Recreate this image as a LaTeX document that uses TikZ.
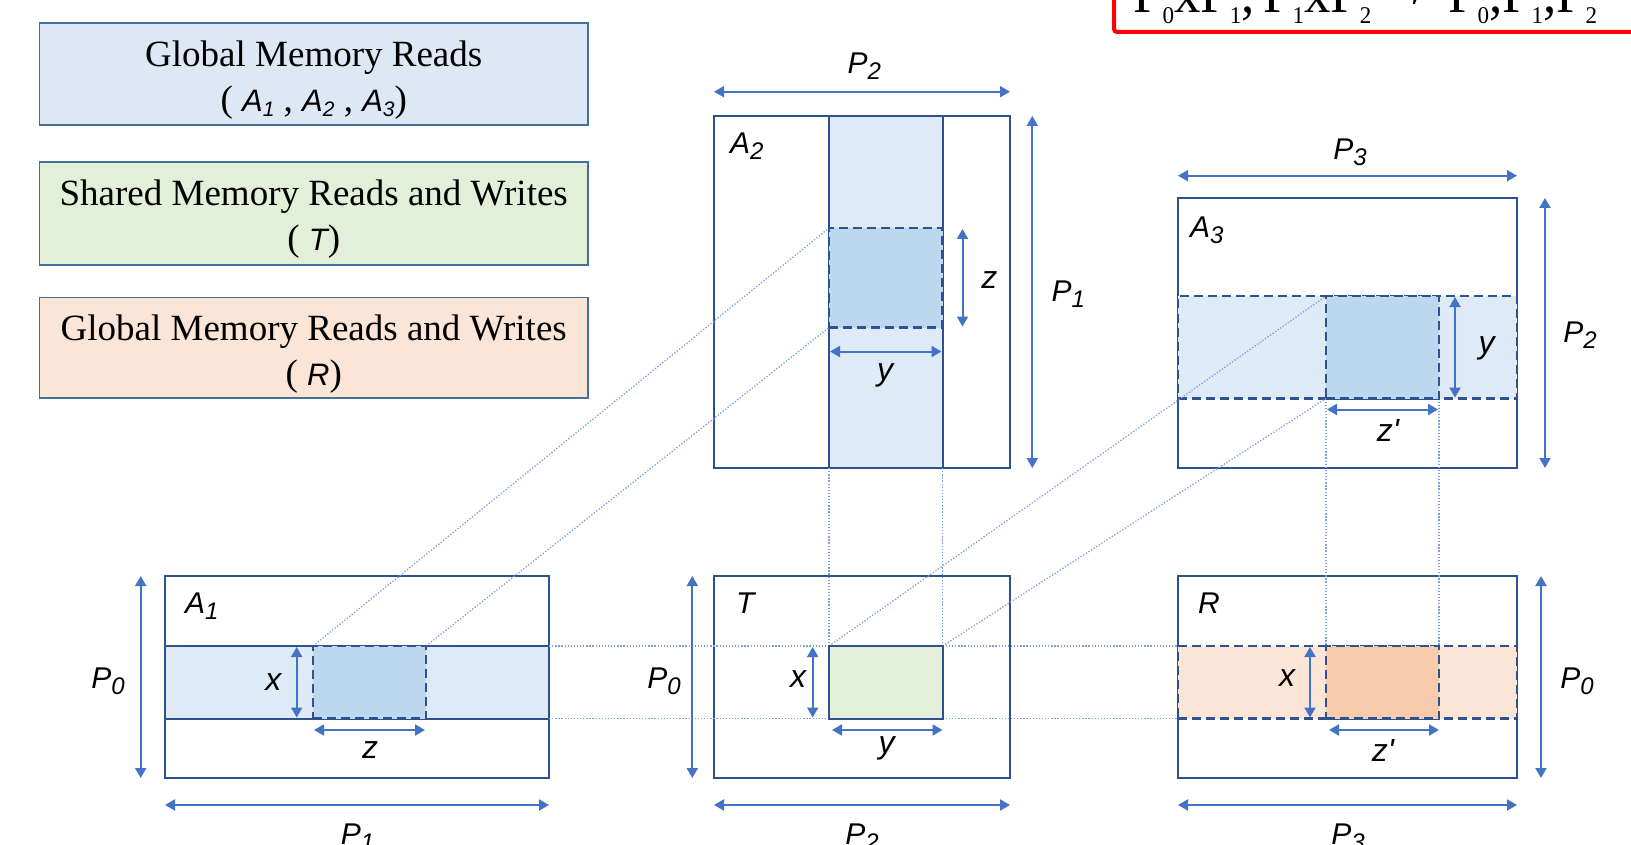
\documentclass[tikz,border=0pt]{standalone}
\usepackage{fontspec}
\setmainfont{Liberation Serif}
\newfontfamily\ar{Liberation Sans}
\usetikzlibrary{arrows.meta}
\definecolor{bdr}{HTML}{2F528F}
\definecolor{legbdr}{HTML}{41719C}
\definecolor{arw}{HTML}{4472C4}
\definecolor{lblue}{HTML}{DEEBF7}
\definecolor{dblue}{HTML}{BDD7EE}
\definecolor{lgreen}{HTML}{E2F0D9}
\definecolor{lorange}{HTML}{FBE5D6}
\definecolor{dorange}{HTML}{F8CBAD}
\definecolor{dotc}{HTML}{7F9FDA}
\definecolor{legblue}{HTML}{DEE8F5}
\newcommand\lbl[2]{{\ar\itshape\fontsize{30}{30}\selectfont #1\raisebox{-6pt}{\fontsize{24}{24}\selectfont #2}}}
\newcommand\vlab[1]{{\ar\itshape\fontsize{32}{32}\selectfont #1}}
\newcommand\bigsub[1]{\raisebox{-11pt}{\fontsize{24}{24}\selectfont #1}}
\newcommand\legsub[2]{{\ar\itshape\fontsize{31}{31}\selectfont #1\raisebox{-5pt}{\fontsize{21}{21}\selectfont #2}}}
\newcommand\ttltext[1]{\scalebox{0.96}[1]{\fontsize{55}{55}\selectfont #1}}
\begin{document}
\begin{tikzpicture}[x=1pt,y=-1pt,
  >={Triangle[length=10pt,width=11pt]},
  rectbase/.style={anchor=north west, inner sep=0pt, outer sep=0pt},
  mat/.style={rectbase, draw=bdr, line width=2pt, fill=white},
  solidband/.style={rectbase, draw=bdr, line width=2pt},
  dashband/.style={rectbase, draw=bdr, line width=2.2pt, dash pattern=on 9pt off 5pt},
  legbox/.style={rectbase, draw=legbdr, line width=1.4pt, minimum width=548.5pt},
  legtext/.style={inner sep=0pt, align=center, font=\fontsize{37}{45}\selectfont, yshift=-6pt},
  ttl/.style={inner sep=0pt, anchor=base west},
  dimarrow/.style={arw, line width=2pt, <->},
  guide/.style={dotc, line width=1.3pt, dash pattern=on 1.3pt off 1.8pt},
  lab/.style={inner sep=0pt, anchor=base}
]
\useasboundingbox (0,0) rectangle (1631,845);
\clip (0,0) rectangle (1631,845);

% title box (cut off at the top edge)
\draw[red, line width=4pt, rounded corners=3pt] (1114,-80) rectangle (1720,32);
\node[ttl] (t1) at (1133,13) {\ttltext{P\bigsub{0}xP\bigsub{1},}};
\node[ttl] (t2) at (1263,13) {\ttltext{P\bigsub{1}xP\bigsub{2}}};
\node[inner sep=0pt] (t3) at (1405,-8) {\resizebox{60pt}{40pt}{\fontsize{55}{55}\selectfont →}};
\node[ttl] (t4) at (1448,13) {\ttltext{P\bigsub{0},P\bigsub{1},P\bigsub{2}}};

% legend
\node[legbox, fill=legblue, minimum height=102pt] (leg1) at (39.5,23) {};
\node[legtext] (leg1t) at (leg1.center) {Global Memory Reads\\( \legsub{A}{1} , \legsub{A}{2} , \legsub{A}{3})};
\node[legbox, fill=lgreen, minimum height=103pt] (leg2) at (39.5,162) {};
\node[legtext] (leg2t) at (leg2.center) {Shared Memory Reads and Writes\\( \legsub{T}{})};
\node[legbox, fill=lorange, minimum height=100.5pt] (leg3) at (39.5,297.5) {};
\node[legtext] (leg3t) at (leg3.center) {Global Memory Reads and Writes\\( \legsub{R}{})};

% matrices
\node[mat, minimum width=296pt, minimum height=352pt] (A2) at (714,116) {};
\node[mat, minimum width=339pt, minimum height=270pt] (A3) at (1178,198) {};
\node[mat, minimum width=384pt, minimum height=202pt] (A1) at (165,576) {};
\node[mat, minimum width=296pt, minimum height=202pt] (T) at (714,576) {};
\node[mat, minimum width=339pt, minimum height=202pt] (R) at (1178,576) {};

% bands
\node[solidband, fill=lblue, minimum width=113.5pt, minimum height=352pt] (A2band) at (829,116) {};
\node[dashband, fill=lblue, minimum width=339pt, minimum height=102.5pt] (A3band) at (1178,296) {};
\node[solidband, fill=lblue, minimum width=384pt, minimum height=72.5pt] (A1band) at (165,646) {};
\node[dashband, fill=lorange, minimum width=339pt, minimum height=72.5pt] (Rband) at (1178,646) {};

% block corners
\coordinate (A1blkNW) at (313,646);
\coordinate (A1blkNE) at (426,646);
\coordinate (A2blkNW) at (829,228);
\coordinate (A2blkSW) at (829,327.5);
\coordinate (TblkNW) at (829,646);
\coordinate (TblkNE) at (942.5,646);
\coordinate (A3blkNW) at (1326,296);
\coordinate (A3blkSW) at (1326,398.5);
\coordinate (A3blkSE) at (1439,398.5);
\coordinate (RblkNW) at (1326,646);
\coordinate (RblkNE) at (1439,646);

% dotted guide lines
\draw[guide] (A1blkNW) -- (A2blkNW);
\draw[guide] (A1blkNE) -- (A2blkSW);
\draw[guide] (TblkNW) -- (A3blkNW);
\draw[guide] (TblkNE) -- (A3blkSW);
\draw[guide] (A2band.south west) -- (TblkNW);
\draw[guide] (A2band.south east) -- (TblkNE);
\draw[guide] (A3blkSW) -- (RblkNW);
\draw[guide] (A3blkSE) -- (RblkNE);
\draw[guide] (A1band.north east) -- (Rband.north west);
\draw[guide] (A1band.south east) -- (Rband.south west);

% blocks
\node[dashband, fill=dblue, minimum width=113.5pt, minimum height=99.5pt] (A2blk) at (A2blkNW) {};
\node[dashband, fill=dblue, minimum width=113pt, minimum height=102.5pt] (A3blk) at (A3blkNW) {};
\node[dashband, fill=dblue, minimum width=113pt, minimum height=72.5pt] (A1blk) at (A1blkNW) {};
\node[solidband, fill=lgreen, minimum width=113.5pt, minimum height=72.5pt] (Tblk) at (TblkNW) {};
\node[dashband, fill=dorange, minimum width=113pt, minimum height=72.5pt] (Rblk) at (RblkNW) {};

% dimension arrows: A2
\draw[dimarrow] ([yshift=24.3pt]A2.north west) -- ([yshift=24.3pt]A2.north east);
\draw[dimarrow] ([xshift=22.3pt]A2.north east) -- ([xshift=22.3pt]A2.south east);
\draw[dimarrow] ([xshift=20pt,yshift=-1pt]A2blk.north east) -- ([xshift=20pt,yshift=1pt]A2blk.south east);
\draw[dimarrow] ([yshift=-24pt,xshift=1pt]A2blk.south west) -- ([yshift=-24pt,xshift=-1pt]A2blk.south east);
% A3
\draw[dimarrow] ([yshift=22.3pt]A3.north west) -- ([yshift=22.3pt]A3.north east);
\draw[dimarrow] ([xshift=28pt]A3.north east) -- ([xshift=28pt]A3.south east);
\draw[dimarrow] ([xshift=16pt,yshift=-1pt]A3blk.north east) -- ([xshift=16pt,yshift=1pt]A3blk.south east);
\draw[dimarrow] ([yshift=-11pt,xshift=1pt]A3blk.south west) -- ([yshift=-11pt,xshift=-1pt]A3blk.south east);
% A1
\draw[dimarrow] ([xshift=-24.3pt]A1.north west) -- ([xshift=-24.3pt]A1.south west);
\draw[dimarrow] ([yshift=-27pt]A1.south west) -- ([yshift=-27pt]A1.south east);
\draw[dimarrow] ([xshift=-16.3pt,yshift=-1pt]A1blk.north west) -- ([xshift=-16.3pt,yshift=1pt]A1blk.south west);
\draw[dimarrow] ([yshift=-11.5pt,xshift=1pt]A1blk.south west) -- ([yshift=-11.5pt,xshift=-1pt]A1blk.south east);
% T
\draw[dimarrow] ([xshift=-21.7pt]T.north west) -- ([xshift=-21.7pt]T.south west);
\draw[dimarrow] ([yshift=-27pt]T.south west) -- ([yshift=-27pt]T.south east);
\draw[dimarrow] ([xshift=-16.3pt,yshift=-1pt]Tblk.north west) -- ([xshift=-16.3pt,yshift=1pt]Tblk.south west);
\draw[dimarrow] ([yshift=-11.5pt,xshift=3pt]Tblk.south west) -- ([yshift=-11.5pt]Tblk.south east);
% R
\draw[dimarrow] ([xshift=24pt]R.north east) -- ([xshift=24pt]R.south east);
\draw[dimarrow] ([yshift=-27pt]R.south west) -- ([yshift=-27pt]R.south east);
\draw[dimarrow] ([xshift=-16pt,yshift=-1pt]Rblk.north west) -- ([xshift=-16pt,yshift=1pt]Rblk.south west);
\draw[dimarrow] ([yshift=-11.5pt,xshift=3pt]Rblk.south west) -- ([yshift=-11.5pt]Rblk.south east);

% corner labels
\node[inner sep=0pt, anchor=base west] (lA2) at (730,154) {\lbl{A}{2}};
\node[inner sep=0pt, anchor=base west] (lA3) at (1190,237.3) {\lbl{A}{3}};
\node[inner sep=0pt, anchor=base west] (lA1) at (185,613.3) {\lbl{A}{1}};
\node[inner sep=0pt, anchor=base west] (lT) at (736,613.3) {\lbl{T}{}};
\node[inner sep=0pt, anchor=base west] (lR) at (1198,613.3) {\lbl{R}{}};

% P labels
\node[lab] (pA2t) at (864.3,74) {\lbl{P}{2}};
\node[lab] (pA2r) at (1068.3,301.7) {\lbl{P}{1}};
\node[lab] (pA3t) at (1350,159.3) {\lbl{P}{3}};
\node[lab] (pA3r) at (1580,342.7) {\lbl{P}{2}};
\node[lab] (pA1l) at (108,688) {\lbl{P}{0}};
\node[lab] (pA1b) at (357.5,844) {\lbl{P}{1}};
\node[lab] (pTl) at (664,688.3) {\lbl{P}{0}};
\node[lab] (pTb) at (862,844) {\lbl{P}{2}};
\node[lab] (pRr) at (1577,688) {\lbl{P}{0}};
\node[lab] (pRb) at (1348,844) {\lbl{P}{3}};

% variable labels
\node[inner sep=0pt] (zA2) at (989.3,280) {\vlab{z}};
\node[lab] (yA2) at (885,380) {\vlab{y}};
\node[lab] (yA3) at (1486.7,353.3) {\vlab{y}};
\node[lab] (zA3) at (1388,441.7) {\vlab{z\textquotesingle}};
\node[inner sep=0pt] (xA1) at (273.3,681.7) {\vlab{x}};
\node[inner sep=0pt] (zA1) at (370,750) {\vlab{z}};
\node[inner sep=0pt] (xT) at (798,679) {\vlab{x}};
\node[lab] (yT) at (886.7,753) {\vlab{y}};
\node[inner sep=0pt] (xR) at (1287,678) {\vlab{x}};
\node[lab] (zR) at (1383,761.7) {\vlab{z\textquotesingle}};
\end{tikzpicture}
\end{document}
